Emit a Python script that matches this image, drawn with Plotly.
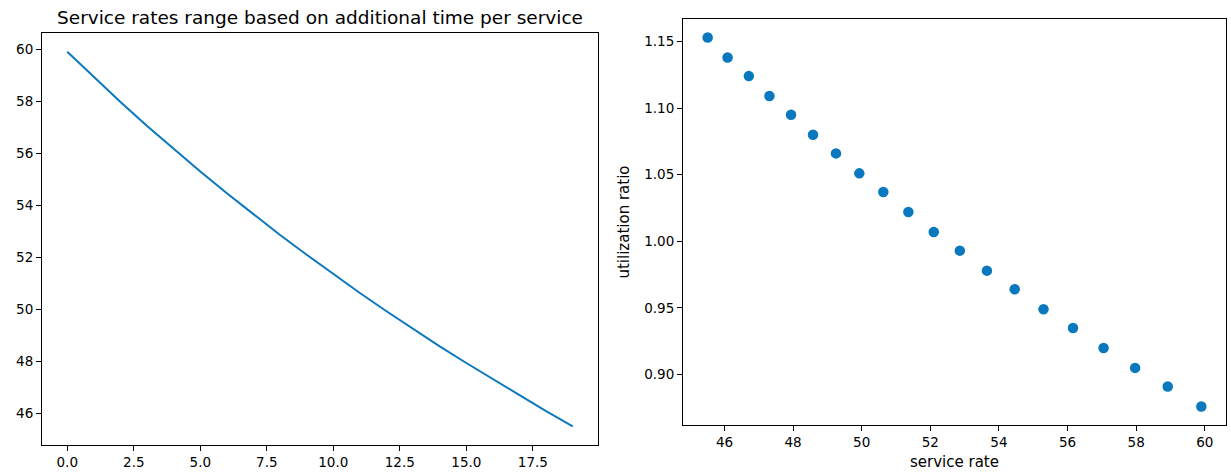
import plotly.graph_objects as go

W, H = 1231, 474

# Left panel: service rate for each amount of additional time per service
additional_time = list(range(20))
service_rates = [59.90, 58.92, 57.97, 57.05, 56.16, 55.30, 54.46, 53.65, 52.86, 52.10,
                 51.36, 50.63, 49.93, 49.25, 48.58, 47.94, 47.31, 46.71, 46.09, 45.51]

# Right panel: utilization ratio vs service rate
utilization = [0.876, 0.891, 0.905, 0.920, 0.935, 0.949, 0.964, 0.978, 0.993, 1.007,
               1.022, 1.037, 1.051, 1.066, 1.080, 1.095, 1.109, 1.124, 1.138, 1.153]

left_xticks = [0, 2.5, 5, 7.5, 10, 12.5, 15, 17.5]
left_yticks = [46, 48, 50, 52, 54, 56, 58, 60]
right_xticks = [46, 48, 50, 52, 54, 56, 58, 60]
right_yticks = [0.90, 0.95, 1.00, 1.05, 1.10, 1.15]

title_text = "Service rates range based on additional time per service"
xlabel2 = "service rate"
ylabel2 = "utilization ratio"

BLUE = "#0a78be"
FONT = "DejaVu Sans"


def px_x(p):
    return p / W


def px_y(p):
    return 1 - p / H


def lim(vals, frac=0.05):
    lo, hi = min(vals), max(vals)
    pad = (hi - lo) * frac
    return [lo - pad, hi + pad]


fig = go.Figure()
fig.add_trace(go.Scatter(x=additional_time, y=service_rates, mode="lines",
                         line=dict(color=BLUE, width=2), xaxis="x", yaxis="y",
                         showlegend=False))
fig.add_trace(go.Scatter(x=service_rates, y=utilization, mode="markers",
                         marker=dict(color=BLUE, size=10.5), xaxis="x2", yaxis="y2",
                         showlegend=False))

axis_common = dict(showline=True, mirror=True, linecolor="black", linewidth=1,
                   ticks="outside", ticklen=5, tickwidth=1, tickcolor="black",
                   showgrid=False, zeroline=False,
                   tickfont=dict(family=FONT, size=13.5, color="black"))

fig.update_layout(
    width=W, height=H,
    margin=dict(l=0, r=0, t=0, b=0),
    paper_bgcolor="white", plot_bgcolor="white",
    font=dict(family=FONT, color="black"),
    xaxis=dict(domain=[px_x(42), px_x(598)], range=lim(additional_time),
               tickvals=left_xticks, ticktext=[f"{v:.1f}" for v in left_xticks],
               anchor="y", **axis_common),
    yaxis=dict(domain=[px_y(445), px_y(33)], range=lim(service_rates),
               tickvals=left_yticks, ticktext=[str(v) for v in left_yticks],
               anchor="x", **axis_common),
    xaxis2=dict(domain=[px_x(683), px_x(1226)], range=lim(service_rates),
                tickvals=right_xticks, ticktext=[str(v) for v in right_xticks],
                anchor="y2",
                title=dict(text=xlabel2, font=dict(family=FONT, size=15), standoff=7),
                **axis_common),
    yaxis2=dict(domain=[px_y(425), px_y(19)], range=lim(utilization),
                tickvals=right_yticks, ticktext=[f"{v:.2f}" for v in right_yticks],
                anchor="x2",
                title=dict(text=ylabel2, font=dict(family=FONT, size=15), standoff=10),
                **axis_common),
    annotations=[dict(text=title_text, x=px_x(320), y=px_y(18), xref="paper", yref="paper",
                      xanchor="center", yanchor="middle", showarrow=False,
                      font=dict(family=FONT, size=18.5, color="black"))],
)

fig.write_html("out.html", config={"displayModeBar": False},
               post_script="document.body.style.margin='0';")
